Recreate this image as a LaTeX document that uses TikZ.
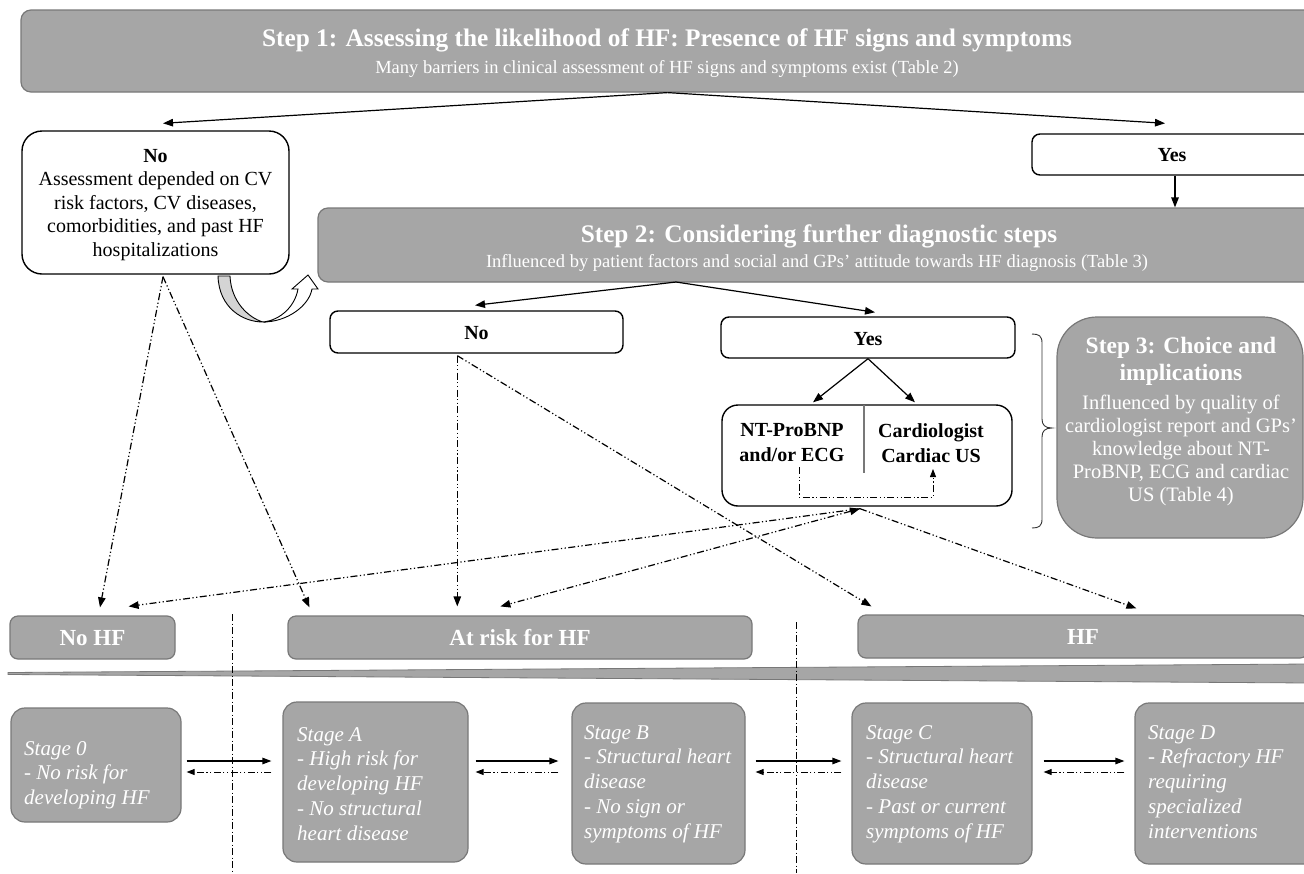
\documentclass[tikz,border=0pt]{standalone}
\usepackage{fontspec}
\setmainfont{Liberation Serif}
\usetikzlibrary{arrows.meta,calc}
\definecolor{boxgray}{RGB}{166,166,166}
\definecolor{edgegray}{RGB}{120,120,120}
\definecolor{lightg}{RGB}{212,212,212}
\newcommand{\mybox}[7]{\node[#1, minimum width={#5-#3}, minimum height={#6-#4}] (#2) at ({(#3+#5)/2},{(#4+#6)/2}) {#7};}
\begin{document}
\begin{tikzpicture}[x=1pt,y=-1pt,
  gbox/.style={draw=edgegray, line width=1.2pt, fill=boxgray, rounded corners=10pt, inner sep=0pt},
  wbox/.style={draw=black, line width=1.4pt, fill=white, rounded corners=8pt, inner sep=0pt},
  wtext/.style={text=white, inner sep=0pt, align=center},
  btext/.style={text=black, inner sep=0pt, align=center},
  bigbold/.style={font=\fontsize{25.3}{28}\selectfont\bfseries},
  subfont/.style={font=\fontsize{18.5}{22}\selectfont},
  midbold/.style={font=\fontsize{20}{25}\selectfont\bfseries},
  stagefont/.style={font=\fontsize{21}{24.8}\selectfont\itshape, text=white, inner sep=0pt, align=left, anchor=north west},
  arr/.style={line width=1.2pt, -{Triangle[length=10pt,width=7.5pt]}},
  sarr/.style={line width=1.2pt, -{Triangle[length=9pt,width=6.5pt]}},
  ddpat/.style={dash pattern=on 7pt off 2.5pt on 1.2pt off 2.5pt on 1.2pt off 2.5pt},
  ddarr/.style={line width=1.2pt, ddpat, -{Triangle[length=10pt,width=7.5pt]}},
  sddarr/.style={line width=0.9pt, ddpat, -{Triangle[length=8pt,width=6pt]}},
  ddline/.style={line width=0.7pt, dash pattern=on 7pt off 2.5pt on 1pt off 2.5pt},
]
\useasboundingbox (0,0) rectangle (1304,873);
\clip (0,0) rectangle (1304,873);

% Step 1
\mybox{gbox}{s1}{21}{10}{1314}{92}{}
\node[wtext, bigbold] (s1t) at (667,40) {Step 1: Assessing the likelihood of HF: Presence of HF signs and symptoms};
\node[wtext, subfont] (s1s) at (667,69) {Many barriers in clinical assessment of HF signs and symptoms exist (Table 2)};

% No box (step 1)
\mybox{wbox, rounded corners=20pt}{no1}{22}{131}{289}{274}{}
\node[btext, font=\fontsize{20}{23.5}\selectfont] (no1t) at (155.5,205) {\textbf{No}\\Assessment depended on CV\\risk factors, CV diseases,\\comorbidities, and past HF\\hospitalizations};

% Yes box (step 1)
\mybox{wbox}{yes1}{1032}{134}{1312}{175}{}
\node[btext, midbold] (yes1t) at (1172,155) {Yes};

% Step 2
\mybox{gbox}{s2}{318}{208}{1320}{282}{}
\node[wtext, bigbold] (s2t) at (819,236) {Step 2: Considering further diagnostic steps};
\node[wtext, subfont] (s2s) at (817,263) {Influenced by patient factors and social and GPs’ attitude towards HF diagnosis (Table 3)};

\draw[arr] (s1.south) -- ($(no1.north)+(7.5,-7)$);
\draw[arr] (s1.south) -- ($(yes1.north)+(-7,-10)$);
\draw[arr] ($(yes1.south)+(3,0)$) -- ($(yes1.south |- s2.north)+(3,0)$);

% curved arrow
\filldraw[fill=lightg, draw=black, line width=0.9pt] (218,276) .. controls (219,308) and (243,322) .. (263,322) .. controls (249,318) and (231,302) .. (230,276) -- cycle;
\filldraw[fill=white, draw=black, line width=0.9pt] (263,322) .. controls (287,322) and (309,306) .. (312,289) -- (318,289) -- (308,275) -- (292,289) -- (298,289) .. controls (295,306) and (281,320) .. (263,322) -- cycle;

% Step 2 No / Yes
\mybox{wbox}{no2}{330}{311}{623}{353}{}
\node[btext, midbold] (no2t) at (476.5,333) {No};
\mybox{wbox}{yes2}{721}{317}{1015}{358}{}
\node[btext, midbold] (yes2t) at (868,339) {Yes};
\coordinate (s2o) at (676,282);
\draw[arr] (s2o) -- ($(no2.north)+(-1.5,-5)$);
\draw[arr] (s2o) -- ($(yes2.north)+(7,-4)$);

% NT box
\mybox{wbox, rounded corners=16pt}{nt}{722}{405}{1012}{506}{}
\draw[edgegray, line width=1.2pt] (864,405) -- (864,473);
\node[btext, midbold] (ntl) at (792,443) {NT-ProBNP\\and/or ECG};
\node[btext, midbold] (ntr) at (931,443) {Cardiologist\\Cardiac US};
\draw[line width=0.8pt, ddpat, -{Triangle[length=8pt,width=6pt]}] (799,467) -- (799,497) -- (933,497) -- (933,469);
\draw[arr] (yes2.south) -- ($(nt.north)+(-54,-2)$);
\draw[arr] (yes2.south) -- ($(nt.north)+(48,-2)$);

% Step 3
\mybox{gbox, rounded corners=40pt}{s3}{1057}{317}{1303}{538}{}
\node[wtext, font=\fontsize{23.5}{27}\selectfont\bfseries] (s3t) at (1181,361) {Step 3: Choice and\\implications};
\node[wtext, font=\fontsize{20.5}{23}\selectfont] (s3s) at (1181,450) {Influenced by quality of\\cardiologist report and GPs’\\knowledge about NT-\\ProBNP, ECG and cardiac\\US (Table 4)};
\draw[black!80, line width=0.9pt] (1032,334) .. controls (1039,334) and (1042,336) .. (1042,343) -- (1042,419) .. controls (1042,425) and (1045,428) .. (1052,428) .. controls (1045,428) and (1042,431) .. (1042,437) -- (1042,519) .. controls (1042,526) and (1039,528) .. (1032,528);

% HF categories
\mybox{gbox, rounded corners=8pt}{nohf}{10}{616}{175}{659}{}
\node[wtext, font=\fontsize{23}{26}\selectfont\bfseries] (nohft) at (92.5,638) {No HF};
\mybox{gbox, rounded corners=8pt}{atrisk}{288}{616}{752}{659}{}
\node[wtext, font=\fontsize{23}{26}\selectfont\bfseries] (atriskt) at (520,638) {At risk for HF};
\mybox{gbox, rounded corners=8pt}{hf}{858}{615}{1308}{658}{}
\node[wtext, font=\fontsize{23}{26}\selectfont\bfseries] (hft) at (1083,637) {HF};

% wedge
\filldraw[fill=boxgray, draw=edgegray, line width=0.8pt] (8,672.5) -- (1310,664) -- (1310,683) -- (8,674.5) -- cycle;

% separators
\draw[ddline] (232,614) -- (232,873);
\draw[ddline] (796,622) -- (796,873);

% dash-dot arrows
\coordinate (no1o) at ($(no1.south)+(7.5,2)$);
\draw[ddarr] (no1o) -- ($(nohf.north)+(7.5,-8)$);
\draw[ddarr] (no1o) -- ($(atrisk.north west)+(22,-8)$);
\coordinate (no2o) at ($(no2.south west)+(128,2)$);
\draw[ddarr] (no2o) -- ($(no2o |- atrisk.north)+(0,-9)$);
\draw[ddarr] (no2o) -- ($(hf.north west)+(14,-8)$);
\coordinate (nto) at ($(nt.south)+(-7,2)$);
\draw[ddarr] (nto) -- ($(nohf.north east)+(-47,-9)$);
\draw[line width=1.2pt, ddpat, {Triangle[length=10pt,width=7.5pt]}-{Triangle[length=10pt,width=7.5pt]}] (nto) -- ($(atrisk.north west)+(213,-9)$);
\draw[ddarr] (nto) -- ($(hf.north west)+(279,-6)$);

% stages
\mybox{gbox, rounded corners=14pt}{st0}{11}{708}{181}{822}{}
\node[stagefont] (st0t) at (24,741) {Stage 0\\- No risk for\\developing HF};
\mybox{gbox, rounded corners=14pt}{stA}{283}{702}{468}{862}{}
\node[stagefont] (stAt) at (297,727) {Stage A\\- High risk for\\developing HF\\- No structural\\heart disease};
\mybox{gbox, rounded corners=14pt}{stB}{572}{703}{745}{864}{}
\node[stagefont] (stBt) at (584,725) {Stage B\\- Structural heart\\disease\\- No sign or\\symptoms of HF};
\mybox{gbox, rounded corners=14pt}{stC}{852}{703}{1032}{864}{}
\node[stagefont] (stCt) at (866,725) {Stage C\\- Structural heart\\disease\\- Past or current\\symptoms of HF};
\mybox{gbox, rounded corners=14pt}{stD}{1135}{703}{1320}{864}{}
\node[stagefont] (stDt) at (1148,725) {Stage D\\- Refractory HF\\requiring\\specialized\\interventions};

% stage arrows
\coordinate (ya) at (0,761);
\coordinate (yb) at (0,772);
\draw[sarr] ([xshift=5pt]st0.east |- ya) -- ([xshift=-11pt]stA.west |- ya);
\draw[sddarr] ([xshift=-11pt]stA.west |- yb) -- ([xshift=5pt]st0.east |- yb);
\draw[sarr] ([xshift=7pt]stA.east |- ya) -- ([xshift=-13pt]stB.west |- ya);
\draw[sddarr] ([xshift=-13pt]stB.west |- yb) -- ([xshift=7pt]stA.east |- yb);
\draw[sarr] ([xshift=10pt]stB.east |- ya) -- ([xshift=-10pt]stC.west |- ya);
\draw[sddarr] ([xshift=-10pt]stC.west |- yb) -- ([xshift=10pt]stB.east |- yb);
\draw[sarr] ([xshift=11pt]stC.east |- ya) -- ([xshift=-10pt]stD.west |- ya);
\draw[sddarr] ([xshift=-10pt]stD.west |- yb) -- ([xshift=11pt]stC.east |- yb);
\end{tikzpicture}
\end{document}
